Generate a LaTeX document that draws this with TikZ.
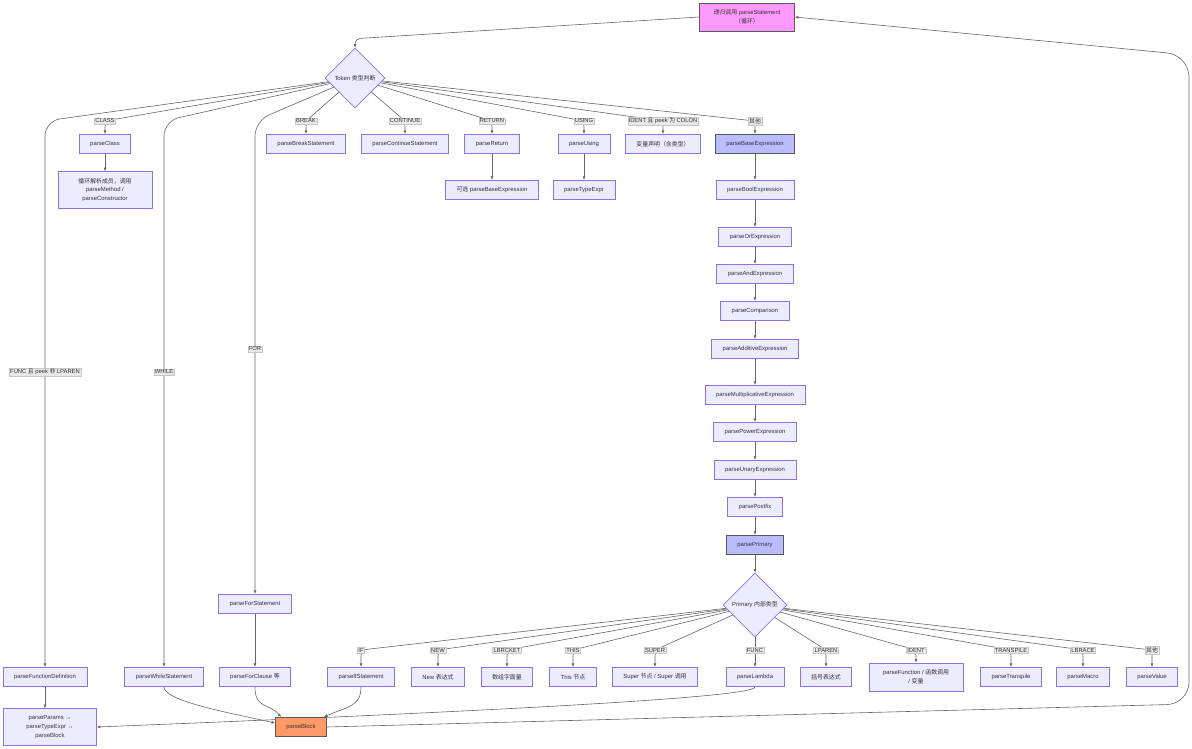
\documentclass[tikz,border=0pt]{standalone}
\usepackage{fontspec}
\setmainfont{Liberation Sans}
\newfontfamily\zhfont{Noto Sans CJK SC}
\newcommand{\zh}[1]{{\zhfont #1}}
\usepackage{tikz}
\usetikzlibrary{shapes.geometric,arrows.meta}
\definecolor{nodefill}{HTML}{ECECFF}
\definecolor{nodeline}{HTML}{9370DB}
\definecolor{txt}{HTML}{333333}
\definecolor{pinkfill}{HTML}{FF99FF}
\definecolor{bluefill}{HTML}{BBBBFF}
\definecolor{orangefill}{HTML}{FF9966}
\definecolor{lblfill}{HTML}{E8E8E8}
\pgfdeclarelayer{edges}
\pgfsetlayers{edges,main}
\tikzset{
    box/.style={draw=nodeline, fill=nodefill, line width=0.6pt, text=txt,
        font=\fontsize{5.9}{8.7}\selectfont, minimum height=19.5pt,
        inner xsep=11pt, inner ysep=4pt, align=center},
    hot/.style={box, draw=black!65},
    decide/.style={diamond, aspect=1, draw=nodeline, fill=nodefill, line width=0.6pt,
        text=txt, font=\fontsize{5.9}{8.7}\selectfont, inner sep=0pt, minimum size=60pt},
    lbl/.style={fill=lblfill, draw=black!22, line width=0.3pt, text=txt,
        font=\fontsize{5.8}{7}\selectfont, inner sep=1pt},
    flow/.style={draw=black!60, line width=0.6pt, -{Latex[length=3.6pt,width=3pt]}},
}

\begin{document}
\begin{tikzpicture}[x=1pt,y=-1pt]
    \useasboundingbox (0,0) rectangle (1192,749);
    % statement level
    \node[hot, fill=pinkfill, minimum width=95pt, minimum height=28pt] (rec) at (747,17) {\zh{递归调用} parseStatement\\\zh{（循环）}};
    \node[decide] (tok) at (355,78) {Token \zh{类型判断}};
    \node[box] (cls) at (105,144) {parseClass};
    \node[box] (brk) at (306,144) {parseBreakStatement};
    \node[box] (cont) at (405,144) {parseContinueStatement};
    \node[box] (ret) at (492,144) {parseReturn};
    \node[box] (use) at (584,144) {parseUsing};
    \node[box] (var) at (663,144) {\zh{变量声明（含类型）}};
    \node[hot, fill=bluefill] (base) at (755,144) {parseBaseExpression};
    \node[box, minimum width=94pt, minimum height=37pt] (clsm) at (105,190) {\zh{循环解析成员，调用}\\parseMethod /\\parseConstructor};
    \node[box] (reto) at (492,190) {\zh{可选} parseBaseExpression};
    \node[box] (uset) at (584,190) {parseTypeExpr};
    % expression chain
    \node[box] (bool) at (755,190) {parseBoolExpression};
    \node[box] (orx) at (755,237) {parseOrExpression};
    \node[box] (andx) at (755,274) {parseAndExpression};
    \node[box] (cmp) at (755,311) {parseComparison};
    \node[box] (add) at (755,349) {parseAdditiveExpression};
    \node[box] (mul) at (755,395) {parseMultiplicativeExpression};
    \node[box] (pow) at (755,432) {parsePowerExpression};
    \node[box] (una) at (755,470) {parseUnaryExpression};
    \node[box] (post) at (755,507) {parsePostfix};
    \node[hot, fill=bluefill] (prim) at (755,545) {parsePrimary};
    \node[decide, minimum size=64pt] (pdiam) at (755,605) {Primary \zh{内部类型}};
    % blocks
    \node[box] (fdef) at (45,677) {parseFunctionDefinition};
    \node[box, minimum width=93pt, minimum height=37pt] (fpar) at (50,727) {parseParams →\\parseTypeExpr →\\parseBlock};
    \node[box] (whl) at (164,677) {parseWhileStatement};
    \node[box] (fors) at (255,604) {parseForStatement};
    \node[box] (forc) at (255,677) {parseForClause \zh{等}};
    \node[hot, fill=orangefill] (blk) at (301,727) {parseBlock};
    % primary kinds
    \node[box] (ifs) at (361,677) {parseIfStatement};
    \node[box] (new) at (438,677) {New \zh{表达式}};
    \node[box] (arr) at (507,677) {\zh{数组字面量}};
    \node[box] (this) at (573,677) {This \zh{节点}};
    \node[box] (sup) at (655,677) {Super \zh{节点} / Super \zh{调用}};
    \node[box] (lam) at (755,677) {parseLambda};
    \node[box] (paren) at (826,677) {\zh{括号表达式}};
    \node[box, minimum width=94pt, minimum height=28pt] (fcall) at (916,677) {parseFunction / \zh{函数调用}\\/ \zh{变量}};
    \node[box] (tsp) at (1011,677) {parseTranspile};
    \node[box] (mac) at (1083,677) {parseMacro};
    \node[box] (val) at (1152,677) {parseValue};
    % edge labels
    \node[lbl] (lcls) at (105,121) {CLASS};
    \node[lbl] (lbrk) at (306,121) {BREAK};
    \node[lbl] (lcont) at (405,121) {CONTINUE};
    \node[lbl] (lret) at (492,121) {RETURN};
    \node[lbl] (luse) at (584,121) {USING};
    \node[lbl] (lvar) at (663,121) {IDENT \zh{且} peek \zh{为} COLON};
    \node[lbl] (lbase) at (755,121) {\zh{其他}};
    \node[lbl] (lfunc) at (45,372) {FUNC \zh{且} peek \zh{非} LPAREN};
    \node[lbl] (lwhl) at (164,372) {WHILE};
    \node[lbl] (lfor) at (255,349) {FOR};
    \node[lbl] (lif) at (361,650) {IF};
    \node[lbl] (lnew) at (438,650) {NEW};
    \node[lbl] (larr) at (507,650) {LBRCKET};
    \node[lbl] (lthis) at (573,650) {THIS};
    \node[lbl] (lsup) at (655,650) {SUPER};
    \node[lbl] (llam) at (755,650) {FUNC};
    \node[lbl] (lparen) at (826,650) {LPAREN};
    \node[lbl] (lcall) at (916,650) {IDENT};
    \node[lbl] (ltsp) at (1011,650) {TRANSPILE};
    \node[lbl] (lmac) at (1083,650) {LBRACE};
    \node[lbl] (lval) at (1152,650) {\zh{其他}};
    \coordinate (loopB) at (1189,704);
    \coordinate (loopT) at (1189,55);

    \begin{pgfonlayer}{edges}
        \draw[flow, rounded corners=5pt] (rec.west) -- ([yshift=9pt]tok.north) -- (tok.north);
        \draw[flow, rounded corners=6pt] (tok) -- (lcls.center) -- (cls);
        \draw[flow, rounded corners=6pt] (tok) -- (lbrk.center) -- (brk);
        \draw[flow, rounded corners=6pt] (tok) -- (lcont.center) -- (cont);
        \draw[flow, rounded corners=6pt] (tok) -- (lret.center) -- (ret);
        \draw[flow, rounded corners=6pt] (tok) -- (luse.center) -- (use);
        \draw[flow, rounded corners=6pt] (tok) -- (lvar.center) -- (var);
        \draw[flow, rounded corners=6pt] (tok) -- (lbase.center) -- (base);
        \draw[flow, rounded corners=15pt] (tok) -- (fdef |- lcls) -- (fdef);
        \draw[flow, rounded corners=15pt] (tok) -- (whl |- lcls) -- (whl);
        \draw[flow, rounded corners=15pt] (tok) -- (fors |- lcls) -- (fors);
        \draw[flow] (cls) -- (clsm);
        \draw[flow] (ret) -- (reto);
        \draw[flow] (use) -- (uset);
        \draw[flow] (base) -- (bool);
        \draw[flow] (bool) -- (orx);
        \draw[flow] (orx) -- (andx);
        \draw[flow] (andx) -- (cmp);
        \draw[flow] (cmp) -- (add);
        \draw[flow] (add) -- (mul);
        \draw[flow] (mul) -- (pow);
        \draw[flow] (pow) -- (una);
        \draw[flow] (una) -- (post);
        \draw[flow] (post) -- (prim);
        \draw[flow] (prim) -- (pdiam);
        \draw[flow, rounded corners=6pt] (pdiam) -- (lif.center) -- (ifs);
        \draw[flow, rounded corners=6pt] (pdiam) -- (lnew.center) -- (new);
        \draw[flow, rounded corners=6pt] (pdiam) -- (larr.center) -- (arr);
        \draw[flow, rounded corners=6pt] (pdiam) -- (lthis.center) -- (this);
        \draw[flow, rounded corners=6pt] (pdiam) -- (lsup.center) -- (sup);
        \draw[flow] (pdiam) -- (lam);
        \draw[flow, rounded corners=6pt] (pdiam) -- (lparen.center) -- (paren);
        \draw[flow, rounded corners=6pt] (pdiam) -- (lcall.center) -- (fcall);
        \draw[flow, rounded corners=6pt] (pdiam) -- (ltsp.center) -- (tsp);
        \draw[flow, rounded corners=6pt] (pdiam) -- (lmac.center) -- (mac);
        \draw[flow, rounded corners=6pt] (pdiam) -- (lval.center) -- (val);
        \draw[flow] (fors) -- (forc);
        \draw[flow] (fdef) -- (fdef |- fpar.north);
        \draw[flow] (whl.south) .. controls +(0,14) and +(-45,-10) .. ([yshift=4pt]blk.west);
        \draw[flow] (forc.south) .. controls +(0,22) and +(-12,-14) .. ([xshift=6pt]blk.north west);
        \draw[flow] (ifs.south) .. controls +(0,20) and +(22,-10) .. ([xshift=-3pt]blk.north east);
        \draw[flow] (lam.south) .. controls +(0,12) and +(300,-12) .. (fpar.east);
        \draw[flow, rounded corners=22pt] (blk.east) -- (loopB) -- (loopT) -- (rec.east);
    \end{pgfonlayer}
\end{tikzpicture}
\end{document}
